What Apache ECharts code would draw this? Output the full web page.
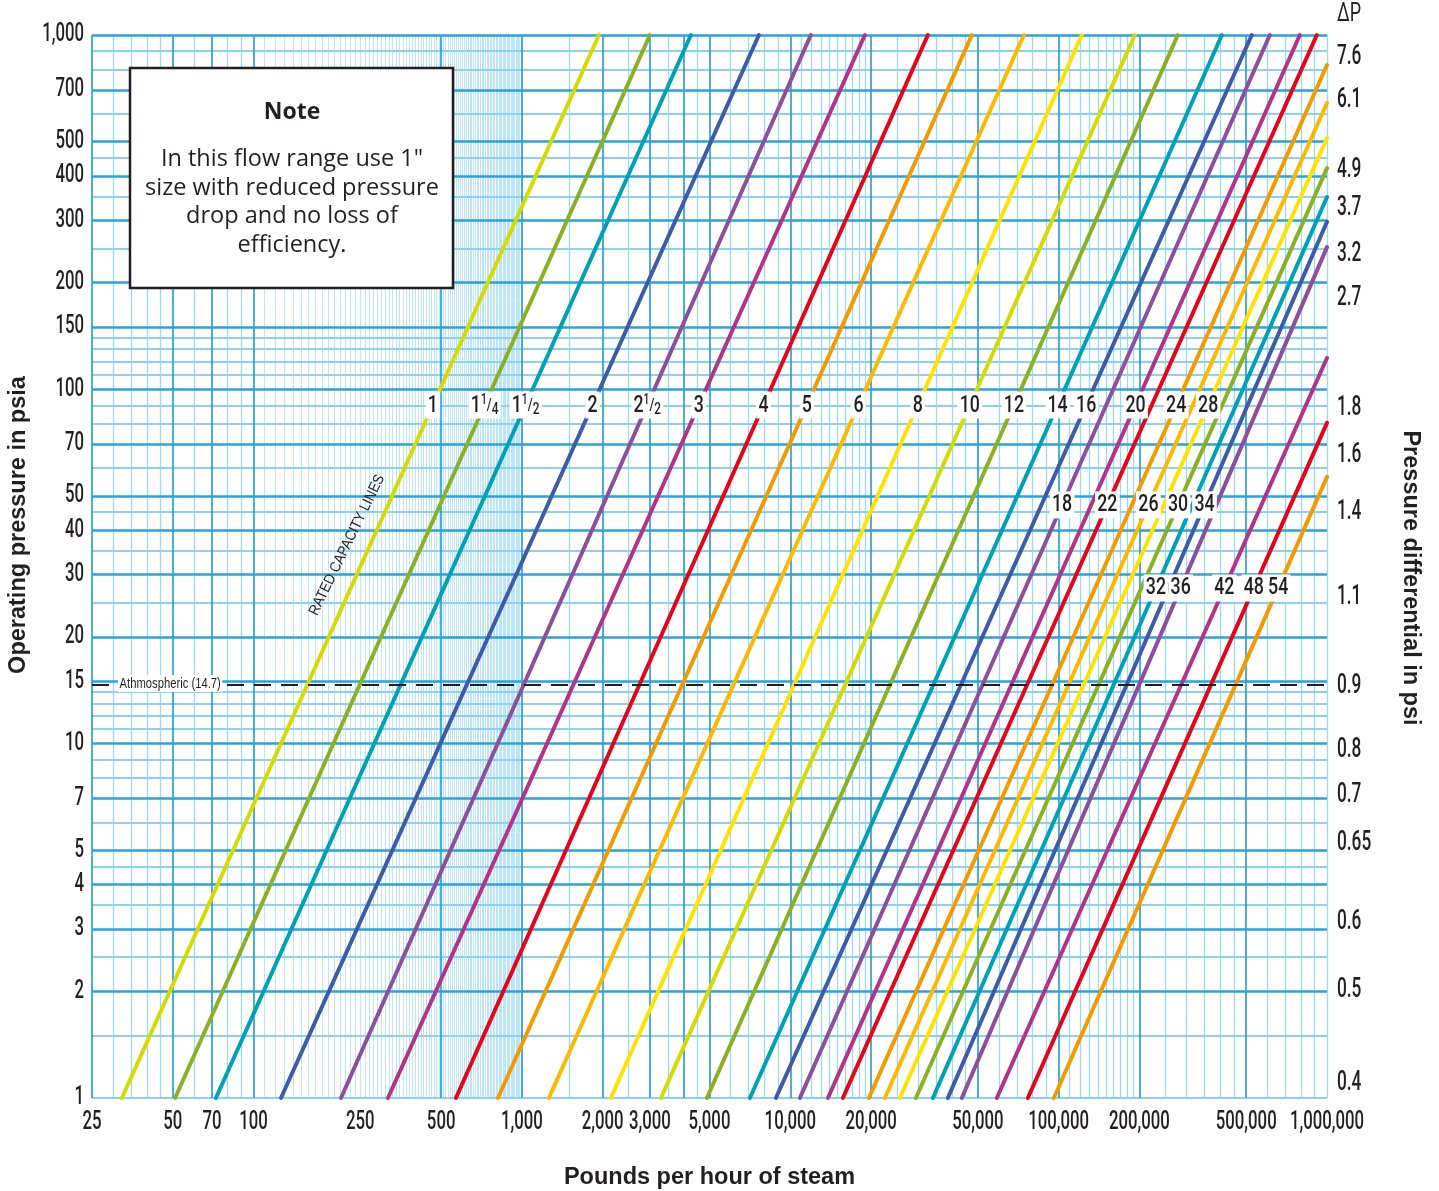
<!DOCTYPE html>
<html>
<head>
<meta charset="utf-8">
<script src="https://cdn.jsdelivr.net/npm/echarts@6/dist/echarts.min.js"></script>
<style>
html,body{margin:0;padding:0;background:#fff;}
#chart{width:1439px;height:1191px;}
</style>
</head>
<body>
<div id="chart"></div>
<script>
// ================= DATA =================
// Valve sizes (inches), one rated-capacity line each
const sizeLabels = ['1','1¼','1½','2','2½','3','4','5','6','8','10','12','14','16','18','20','22','24','26','28','30','32','34','36','42','48','54'];
// Flow (lb/h) where each line meets 1 psia
const flowAtOnePsia = [32.3, 51, 72.4, 126.5, 211.7, 316.8, 567.7, 814, 1260, 2146, 3295, 4890, 7072, 8838, 10860, 13810, 15700, 19630, 22510, 25600, 29380, 33990, 38650, 43580, 58830, 76780, 95970];
// Upper end point of each line (flow lb/h, pressure psia)
const endFlow = [1936, 2998, 4262, 7640, 11930, 18970, 32560, 47500, 74200, 122000, 192300, 278000, 405800, 524500, 612300, 792000, 916200, 1000000, 1000000, 1000000, 1000000, 1000000, 1000000, 1000000, 1000000, 1000000, 1000000];
const endPressure = [1000, 1000, 1000, 1000, 1000, 1000, 1000, 1000, 1000, 1000, 1000, 1000, 1000, 1000, 1000, 1000, 1000, 823, 643, 512, 421, 349, 297, 252, 122.6, 80.4, 56.6];

// Axis tick labels
const xTickValues = [25, 50, 70, 100, 250, 500, 1000, 2000, 3000, 5000, 10000, 20000, 50000, 100000, 200000, 500000, 1000000];
const yTickValues = [1, 2, 3, 4, 5, 7, 10, 15, 20, 30, 40, 50, 70, 100, 150, 200, 300, 400, 500, 700, 1000];
// Right-hand pressure-differential scale: label and the operating pressure it sits at
const dpTickLabels = ['7.6', '6.1', '4.9', '3.7', '3.2', '2.7', '1.8', '1.6', '1.4', '1.1', '0.9', '0.8', '0.7', '0.65', '0.6', '0.5', '0.4'];
const dpTickAtPressure = [867, 656, 416, 325, 241, 181, 88.6, 65.3, 45.1, 25.9, 14.5, 9.6, 7.16, 5.24, 3.14, 2.02, 1.10];

const atmosphericPressure = 14.7;
const atmosphericLabel = 'Athmospheric (14.7)';

// Graph-paper rulings
const gridXMajor = [25, 50, 70, 100, 500, 1000, 2000, 3000, 4000, 5000, 10000, 20000, 50000, 100000, 200000, 500000];
const gridXMinor = [30, 35, 40, 45, 60, 80, 90, 1500, 2500, 3500, 4500, 6000, 7000, 8000, 9000,
  11000, 12000, 13000, 14000, 15000, 16000, 17000, 18000, 19000, 25000, 30000, 35000, 40000, 45000,
  60000, 70000, 80000, 90000, 110000, 120000, 130000, 140000, 150000, 160000, 170000, 180000, 190000,
  250000, 300000, 350000, 400000, 450000, 600000, 700000, 800000, 900000, 1000000];
const gridXDense = [110, 120, 130, 140, 150, 160, 170, 180, 190, 200, 210, 220, 230, 240, 250, 260, 270, 280, 290, 300,
  310, 320, 330, 340, 350, 360, 370, 380, 390, 400, 410, 420, 430, 440, 450, 460, 470, 480, 490,
  510, 520, 530, 540, 550, 560, 570, 580, 590, 600, 610, 620, 630, 640, 650, 660, 670, 680, 690, 700,
  710, 720, 730, 740, 750, 760, 770, 780, 790, 800, 810, 820, 830, 840, 850, 860, 870, 880, 890, 900,
  910, 920, 930, 940, 950, 960, 970, 980, 990];
const gridYMajor = [2, 3, 4, 5, 7, 10, 15, 20, 30, 40, 50, 70, 100, 150, 200, 300, 400, 500, 700, 1000];
const gridYMinor = [1, 1.5, 2.5, 3.5, 4.5, 6, 8, 9, 11, 12, 13, 14, 25, 35, 45, 60, 80, 90, 110, 120, 130, 140, 250, 350, 450, 600, 800, 900];

// ================= STYLE / LAYOUT =================
const FONT_COND = "Roboto,'Liberation Sans',Arial,sans-serif";   // horizontally squeezed below
const FONT_TEXT = "'Open Sans','Noto Sans','Liberation Sans',sans-serif";
const FONT_BOLD = "'Liberation Sans',Arial,sans-serif";
const INK = '#231f20';
const palette = ['#D4DB00', '#8AB124', '#00A0B6', '#3E5BA8', '#8C4F9B', '#B0358A', '#E3061A', '#F29B00', '#FBB900', '#FFE200'];
const lineColorIdx = [0,1,2,3,4,5,6,7,8,9, 0,1,2,3,4,5,6,7,8,9, 1,2,3,4,5,6,7];
// pressure level (psia) at which each size label is printed
const labelRowLevels = [90.3, 47.2, 27.5];
const labelRowOf = {'18':1, '22':1, '26':1, '30':1, '34':1, '32':2, '36':2, '42':2, '48':2, '54':2};

function flowOnLine(i, p) {
  const lx0 = Math.log10(flowAtOnePsia[i]), ly0 = 0;
  const lx1 = Math.log10(endFlow[i]), ly1 = Math.log10(endPressure[i]);
  const t = (Math.log10(p) - ly0) / (ly1 - ly0);
  return Math.pow(10, lx0 + t * (lx1 - lx0));
}
function sizeRich(s) {
  const fr = {'¼': ['1', '4'], '½': ['1', '2']};
  const last = s.slice(-1);
  if (fr[last]) return s.slice(0, -1) + '{n|' + fr[last][0] + '}{f|/}{d|' + fr[last][1] + '}';
  return s;
}
const fmtNum = v => Number(v).toLocaleString('en-US');

function gridSeries(name, dim, values, color, width) {
  return {
    name: name, type: 'line', data: [], silent: true, z: 1,
    markLine: {
      silent: true, z: 1, symbol: ['none', 'none'], animation: false, precision: 4,
      label: {show: false}, emphasis: {disabled: true},
      lineStyle: {color: color, width: width, type: 'solid'},
      data: values.map(v => (dim === 'x' ? {xAxis: v} : {yAxis: v}))
    }
  };
}

const series = [];
series.push(gridSeries('gridXDense', 'x', gridXDense, '#BCE5F8', 1));
series.push(gridSeries('gridXMinor', 'x', gridXMinor, '#9ED8F3', 1.3));
series.push(gridSeries('gridYMinor', 'y', gridYMinor, '#8DD1F1', 2));
series.push(gridSeries('gridXMajor', 'x', gridXMajor, '#1D9AD6', 1.6));
series.push(gridSeries('gridYMajor', 'y', gridYMajor, '#2AA2DC', 2.6));

sizeLabels.forEach((s, i) => {
  series.push({
    name: s + '"', type: 'line', silent: true, z: 3, clip: false,
    showSymbol: false, symbol: 'none',
    lineStyle: {color: palette[lineColorIdx[i]], width: 4, cap: 'round'},
    data: [[flowAtOnePsia[i], 1], [endFlow[i], endPressure[i]]]
  });
});

// atmospheric dashed line
series.push({
  name: 'atmospheric', type: 'line', data: [], silent: true, z: 4,
  markLine: {silent: true, z: 4, symbol: ['none', 'none'], animation: false, precision: 2,
    label: {show: false}, emphasis: {disabled: true},
    lineStyle: {color: INK, width: 2, type: [17, 10]},
    data: [{yAxis: atmosphericPressure}]}
});

const option = {
  animation: false,
  backgroundColor: '#ffffff',
  grid: {left: 92, top: 35, width: 1235, height: 1063, containLabel: false, outerBoundsMode: 'none'},
  xAxis: {
    type: 'log', logBase: 10, min: 25, max: 1000000,
    axisLine: {show: false}, axisTick: {show: false}, axisLabel: {show: false}, splitLine: {show: false},
    name: 'Pounds per hour of steam', nameLocation: 'middle', nameGap: 68,
    nameTextStyle: {fontFamily: FONT_BOLD, fontWeight: 'bold', fontSize: 23.5, color: INK}
  },
  yAxis: {
    type: 'log', logBase: 10, min: 1, max: 1000,
    axisLine: {show: false}, axisTick: {show: false}, axisLabel: {show: false}, splitLine: {show: false}
  },
  series: series
};

const chart = echarts.init(document.getElementById('chart'), null, {renderer: 'canvas'});
chart.setOption(option);

// ---- text placed through the chart's own scales ----
const toPx = (x, y) => chart.convertToPixel({gridIndex: 0}, [x, y]);
function condText(pt, text, fs, sx, align, extra) {
  return {type: 'text', z: 30, x: pt[0], y: pt[1], scaleX: sx, silent: true,
    style: Object.assign({text: text, fontFamily: FONT_COND, fontWeight: 500, fontSize: fs, fill: INK,
      align: align, verticalAlign: 'middle'}, extra || {})};
}
const g = [];
// static annotations
g.push({type: 'rect', z: 20, shape: {x: 130, y: 68, width: 323, height: 220},
  style: {fill: '#fff', stroke: INK, lineWidth: 2.5}});
g.push({type: 'text', z: 21, x: 292, y: 112,
  style: {text: 'Note', fontFamily: FONT_TEXT, fontWeight: 'bold', fontSize: 23, fill: INK, align: 'center', verticalAlign: 'middle'}});
g.push({type: 'text', z: 21, x: 292, y: 202.5,
  style: {text: 'In this flow range use 1"\nsize with reduced pressure\ndrop and no loss of\nefficiency.',
    fontFamily: FONT_TEXT, fontSize: 23.5, lineHeight: 28.5, fill: INK, align: 'center', verticalAlign: 'middle'}});
g.push({type: 'text', z: 21, x: 347, y: 545, rotation: 64 * Math.PI / 180, scaleX: 0.88,
  style: {text: 'RATED CAPACITY LINES', fontFamily: "'Liberation Sans',Arial,sans-serif", fontSize: 15, fill: INK, align: 'center', verticalAlign: 'middle'}});
g.push({type: 'text', z: 21, x: 19, y: 525, rotation: Math.PI / 2,
  style: {text: 'Operating pressure in psia', fontFamily: FONT_BOLD, fontWeight: 'bold', fontSize: 23.5, fill: INK, align: 'center', verticalAlign: 'middle'}});
g.push({type: 'text', z: 21, x: 1410, y: 578, rotation: -Math.PI / 2,
  style: {text: 'Pressure differential in psi', fontFamily: FONT_BOLD, fontWeight: 'bold', fontSize: 23.5, fill: INK, align: 'center', verticalAlign: 'middle'}});
g.push({type: 'text', z: 21, x: 1349, y: 15, scaleX: 0.72,
  style: {text: 'ΔP', fontFamily: FONT_COND, fontSize: 25, fill: INK, align: 'center', verticalAlign: 'middle'}});

// x tick labels
xTickValues.forEach(v => {
  const p = toPx(v, 1);
  g.push(condText([p[0], p[1] + 25], fmtNum(v), 25, 0.67, 'center'));
});
// y tick labels
yTickValues.forEach(v => {
  const p = toPx(25, v);
  g.push(condText([p[0] - 8, p[1]], fmtNum(v), 25, 0.67, 'right'));
});
// ΔP labels
dpTickLabels.forEach((t, i) => {
  const p = toPx(1000000, dpTickAtPressure[i]);
  g.push(condText([p[0] + 10, p[1]], t, 27, 0.64, 'left'));
});
// atmospheric label
{
  const p = toPx(25, atmosphericPressure);
  g.push(condText([p[0] + 26, p[1] - 1], atmosphericLabel, 15, 0.75, 'left',
    {fontWeight: 'normal', fontFamily: "'Liberation Sans',Arial,sans-serif", backgroundColor: '#fff', padding: [1, 2]}));
}
// size labels on the lines
sizeLabels.forEach((s, i) => {
  const lvl = labelRowLevels[labelRowOf[s] || 0];
  const p = toPx(flowOnLine(i, lvl), lvl);
  g.push(condText(p, sizeRich(s), 24, 0.74, 'center', {
    backgroundColor: '#fff', padding: [2, 3, 1, 3], lineHeight: 24,
    rich: {
      n: {fontFamily: FONT_COND, fontWeight: 500, fontSize: 14, fill: INK, verticalAlign: 'top', lineHeight: 24},
      f: {fontFamily: FONT_COND, fontWeight: 500, fontSize: 17, fill: INK, verticalAlign: 'middle', lineHeight: 24},
      d: {fontFamily: FONT_COND, fontWeight: 500, fontSize: 16, fill: INK, verticalAlign: 'bottom', lineHeight: 20}
    }
  }));
});

chart.setOption({graphic: g});
</script>
</body>
</html>
